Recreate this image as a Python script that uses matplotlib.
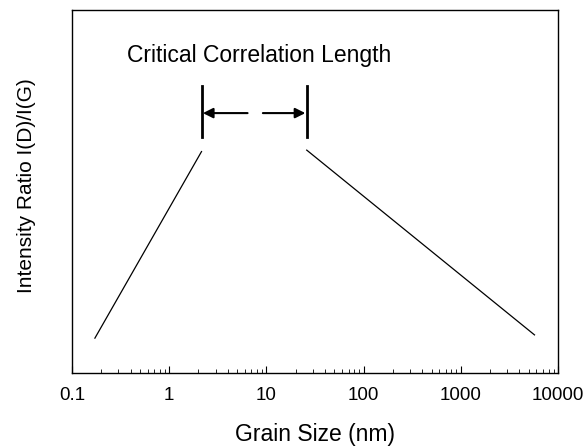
import matplotlib.pyplot as plt
from matplotlib.ticker import LogLocator, NullFormatter

plt.rcParams['font.family'] = ['Liberation Sans', 'DejaVu Sans']

# left branch (growing with grain size) and right branch (Tuinstra-Koenig like)
left_x = [0.172, 2.15]
left_y = [0.096, 0.61]
right_x = [26.0, 5730.0]
right_y = [0.614, 0.105]

# critical correlation length markers
bar_x = [2.15, 26.0]
bar_y = [0.65, 0.79]
arrow_y = 0.716
arrow_tails = [6.4, 9.2]

x_ticks = [0.1, 1, 10, 100, 1000, 10000]
x_labels = ['0.1', '1', '10', '100', '1000', '10000']

fig = plt.figure(figsize=(5.87, 4.47), dpi=100)
ax = fig.add_axes([72 / 587, 1 - 373 / 447, (558 - 72) / 587, (373 - 10) / 447])

ax.plot(left_x, left_y, color='black', lw=0.9)
ax.plot(right_x, right_y, color='black', lw=0.9)

for bx in bar_x:
    ax.plot([bx, bx], bar_y, color='black', lw=2)

ax.annotate('', xy=(bar_x[0], arrow_y), xytext=(arrow_tails[0], arrow_y),
            arrowprops=dict(arrowstyle='-|>', color='black', lw=1.5, mutation_scale=15,
                            shrinkA=0, shrinkB=1))
ax.annotate('', xy=(bar_x[1], arrow_y), xytext=(arrow_tails[1], arrow_y),
            arrowprops=dict(arrowstyle='-|>', color='black', lw=1.5, mutation_scale=15,
                            shrinkA=0, shrinkB=1))

ax.text(0.385, 0.876, 'Critical Correlation Length', transform=ax.transAxes,
        ha='center', va='center', fontsize=16.5)

ax.set_xscale('log')
ax.set_xlim(0.1, 10000)
ax.set_ylim(0, 1)
ax.set_xticks(x_ticks)
ax.set_xticklabels(x_labels)
ax.xaxis.set_minor_locator(LogLocator(base=10, subs=range(2, 10), numticks=20))
ax.xaxis.set_minor_formatter(NullFormatter())
ax.tick_params(axis='x', which='major', direction='in', length=5, labelsize=13.5, pad=10)
ax.tick_params(axis='x', which='minor', direction='in', length=3)
ax.set_yticks([])

for s in ax.spines.values():
    s.set_linewidth(1)

ax.set_xlabel('Grain Size (nm)', fontsize=16.5, labelpad=14)
ax.set_ylabel('Intensity Ratio I(D)/I(G)', fontsize=15)
ax.yaxis.set_label_coords(-0.075, 0.515)

fig.savefig('out.png', dpi=100)
